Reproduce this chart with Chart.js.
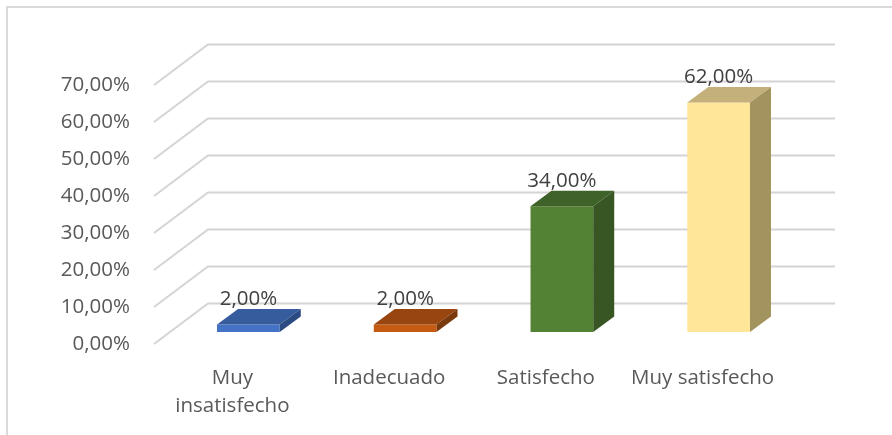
<!DOCTYPE html>
<html lang="es">
<head>
<meta charset="utf-8">
<title>Nivel de satisfacción</title>
<script src="https://cdn.jsdelivr.net/npm/chart.js@4.4.1/dist/chart.umd.min.js"></script>
<style>
  html, body { margin: 0; padding: 0; background: #ffffff; }
  #wrap { width: 892px; height: 435px; }
</style>
</head>
<body>
<div id="wrap"><canvas id="grafico" width="892" height="435"></canvas></div>
<script>
// datos de la encuesta
const categorias = [['Muy', 'insatisfecho'], 'Inadecuado', 'Satisfecho', 'Muy satisfecho'];
const porcentajes = [2, 2, 34, 62];
const marcasEje = [0, 10, 20, 30, 40, 50, 60, 70];

// colores de cada barra: cara frontal, tapa y lateral
const colorFrente = ['#4472C4', '#C55A11', '#548235', '#FFE699'];
const colorTapa = ['#365C9E', '#984510', '#3F6228', '#C4B07A'];
const colorLado = ['#2B4A82', '#7A380D', '#375623', '#A3935F'];

// perspectiva: fondo de las paredes y profundidad de las barras
const fondo = { dx: 54, dy: -40.5 };
const frenteBarra = { dx: 16, dy: -12 };
const ladoBarra = { dx: 21, dy: -15.5 };

const formatoPct = v => v.toFixed(2).replace('.', ',') + '%';

Chart.defaults.font.family = "'Open Sans', sans-serif";
Chart.defaults.font.size = 20.5;
Chart.defaults.color = '#595959';

const efecto3D = {
    id: 'efecto3D',
    beforeDraw(chart) {
        const ctx = chart.ctx;
        // marco del grafico
        ctx.save();
        ctx.strokeStyle = '#D9D9D9';
        ctx.lineWidth = 2;
        ctx.beginPath();
        ctx.moveTo(7, chart.height + 2);
        ctx.lineTo(7, 7);
        ctx.lineTo(chart.width + 2, 7);
        ctx.stroke();
        ctx.restore();
    },
    beforeDatasetsDraw(chart) {
        const ctx = chart.ctx;
        const area = chart.chartArea;
        const y = chart.scales.y;
        // pared lateral y pared del fondo
        ctx.save();
        ctx.strokeStyle = '#D4D4D4';
        ctx.lineWidth = 2;
        y.ticks.forEach(t => {
            const py = y.getPixelForValue(t.value);
            ctx.beginPath();
            ctx.moveTo(area.left, py);
            ctx.lineTo(area.left + fondo.dx, py + fondo.dy);
            ctx.lineTo(area.right + fondo.dx, py + fondo.dy);
            ctx.stroke();
        });
        ctx.restore();
        // la cara frontal se dibuja desplazada hacia el centro del piso
        ctx.save();
        ctx.translate(frenteBarra.dx, frenteBarra.dy);
    },
    afterDatasetsDraw(chart) {
        const ctx = chart.ctx;
        ctx.restore();
        const meta = chart.getDatasetMeta(0);
        meta.data.forEach((bar, i) => {
            const p = bar.getProps(['x', 'y', 'base', 'width'], true);
            const x0 = p.x - p.width / 2 + frenteBarra.dx;
            const x1 = p.x + p.width / 2 + frenteBarra.dx;
            const yT = p.y + frenteBarra.dy;
            const yB = p.base + frenteBarra.dy;
            // tapa
            ctx.fillStyle = colorTapa[i];
            ctx.beginPath();
            ctx.moveTo(x0, yT);
            ctx.lineTo(x1, yT);
            ctx.lineTo(x1 + ladoBarra.dx, yT + ladoBarra.dy);
            ctx.lineTo(x0 + ladoBarra.dx, yT + ladoBarra.dy);
            ctx.closePath();
            ctx.fill();
            // lateral
            ctx.fillStyle = colorLado[i];
            ctx.beginPath();
            ctx.moveTo(x1, yT);
            ctx.lineTo(x1 + ladoBarra.dx, yT + ladoBarra.dy);
            ctx.lineTo(x1 + ladoBarra.dx, yB + ladoBarra.dy);
            ctx.lineTo(x1, yB);
            ctx.closePath();
            ctx.fill();
            // etiqueta del valor
            ctx.fillStyle = '#404040';
            ctx.font = "20.5px 'Open Sans', sans-serif";
            ctx.textAlign = 'center';
            ctx.textBaseline = 'middle';
            ctx.fillText(formatoPct(porcentajes[i]), p.x + frenteBarra.dx, yT + ladoBarra.dy - 10);
        });
    }
};

new Chart(document.getElementById('grafico'), {
    type: 'bar',
    data: {
        labels: categorias,
        datasets: [{
            data: porcentajes,
            backgroundColor: colorFrente,
            borderWidth: 0,
            barPercentage: 0.4,
            categoryPercentage: 1.0,
            clip: false
        }]
    },
    options: {
        responsive: false,
        animation: false,
        events: [],
        layout: { padding: { top: 85, right: 111, left: 0, bottom: 0 } },
        plugins: {
            legend: { display: false },
            tooltip: { enabled: false }
        },
        scales: {
            x: {
                grid: { display: false, drawTicks: false },
                border: { display: false },
                ticks: {
                    padding: 21,
                    maxRotation: 0,
                    autoSkip: false,
                    font: { lineHeight: 1.33 }
                },
                afterFit: s => { s.height = 91; }
            },
            y: {
                min: 0,
                max: 70,
                afterBuildTicks: s => { s.ticks = marcasEje.map(v => ({ value: v })); },
                grid: { display: false, drawTicks: false },
                border: { display: false },
                ticks: {
                    padding: 24,
                    callback: v => formatoPct(v)
                },
                afterFit: s => { s.width = 154; }
            }
        }
    },
    plugins: [efecto3D]
});
</script>
</body>
</html>
